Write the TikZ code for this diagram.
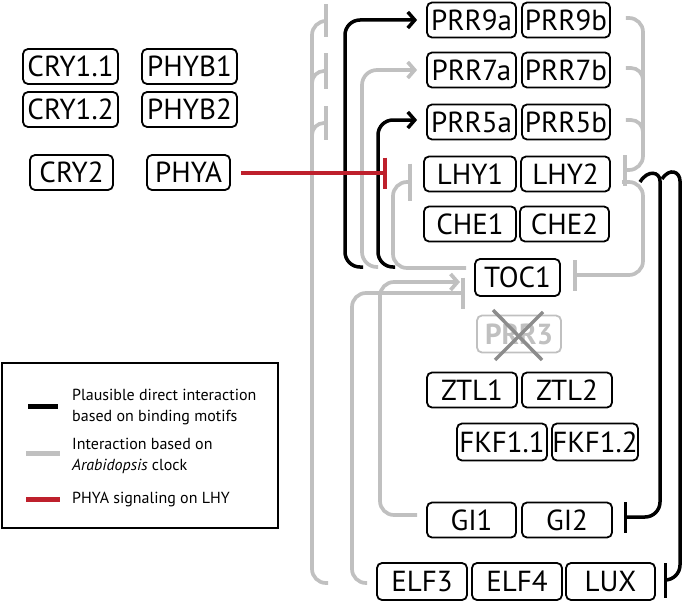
\documentclass[tikz,border=0pt]{standalone}
\usepackage{fontspec}
\setmainfont{PT Sans}
\usetikzlibrary{arrows.meta,calc}
\definecolor{lg}{RGB}{192,192,192}
\definecolor{xg}{RGB}{140,140,140}
\definecolor{rd}{RGB}{190,32,44}
\begin{document}
\begin{tikzpicture}[x=1pt,y=-1pt,
  box/.style={draw=black, line width=1.8pt, rounded corners=5pt, inner sep=0pt,
    minimum height=35pt, font=\fontsize{29}{30}\selectfont},
  gl/.style={draw=lg, line width=3.7pt},
  bl/.style={draw=black, line width=3.5pt},
  rl/.style={draw=rd, line width=4pt},
  arr/.style={-{Straight Barb[length=7pt,width=16pt]}},
  tb/.style={-{Bar[width=#1]}},
  legtxt/.style={anchor=west, align=left, inner sep=0pt, font=\fontsize{16}{20.5}\selectfont}
]
\useasboundingbox (0,0) rectangle (685,602);

% ---- photoreceptors
\node[box, minimum width=95pt] (cry11) at (70.5,66.5) {CRY1.1};
\node[box, minimum width=95pt] (phyb1) at (189.5,66.5) {PHYB1};
\node[box, minimum width=95pt] (cry12) at (70.5,109.5) {CRY1.2};
\node[box, minimum width=95pt] (phyb2) at (189.5,109.5) {PHYB2};
\node[box, minimum width=83pt] (cry2) at (71.5,172.5) {CRY2};
\node[box, minimum width=83pt] (phya) at (188.5,172.5) {PHYA};

% ---- clock genes
\node[box, minimum width=89pt] (prr9a) at (471.5,20) {PRR9a};
\node[box, minimum width=88pt] (prr9b) at (566,20) {PRR9b};
\node[box, minimum width=89pt] (prr7a) at (471.5,70) {PRR7a};
\node[box, minimum width=88pt] (prr7b) at (566,70) {PRR7b};
\node[box, minimum width=89pt] (prr5a) at (471.5,122) {PRR5a};
\node[box, minimum width=88pt] (prr5b) at (566,122) {PRR5b};
\node[box, minimum width=92pt] (lhy1) at (470,174) {LHY1};
\node[box, minimum width=89pt] (lhy2) at (565.5,174) {LHY2};
\node[box, minimum width=92pt] (che1) at (470,224) {CHE1};
\node[box, minimum width=89pt] (che2) at (564.5,224) {CHE2};
\node[box, minimum width=85pt, minimum height=37pt] (toc1) at (517.5,277.5) {TOC1};
\node[box, minimum width=84pt, minimum height=37pt, draw=lg, text=lg, font=\fontsize{29}{30}\selectfont\bfseries] (prr3) at (519,334) {PRR3};
\node[box, minimum width=90pt] (ztl1) at (472,390) {ZTL1};
\node[box, minimum width=90pt] (ztl2) at (567,390) {ZTL2};
\node[box, minimum width=90pt, minimum height=37pt] (fkf11) at (502,442) {FKF1.1};
\node[box, minimum width=86pt, minimum height=37pt] (fkf12) at (595,442) {FKF1.2};
\node[box, minimum width=89pt] (gi1) at (471.5,520) {GI1};
\node[box, minimum width=90pt] (gi2) at (567,520) {GI2};
\node[box, minimum width=90pt, minimum height=37pt] (elf3) at (422,581.5) {ELF3};
\node[box, minimum width=90pt, minimum height=37pt] (elf4) at (517,581.5) {ELF4};
\node[box, minimum width=89pt, minimum height=37pt] (lux) at (610.5,581.5) {LUX};

% cross over PRR3
\draw[xg, line width=3.5pt] ($(prr3.center)+(-26,-24)$) -- ($(prr3.center)+(23,26)$);
\draw[xg, line width=3.5pt] ($(prr3.center)+(24,-22)$) -- ($(prr3.center)+(-24,26)$);

% ---- grey connectors
\coordinate (ecA) at (328,583);
\draw[gl, rounded corners=14, tb=33pt] (ecA) -- (312,583) -- (312,21) -- (328,21);
\draw[gl, rounded corners=12, tb=35pt] (312,96) -- (312,71) -- (328,71);
\draw[gl, rounded corners=12, tb=34pt] (312,148) -- (312,123) -- (328,123);

\draw[gl, rounded corners=14, tb=31pt] ($(elf3.west)+(-9,1.5)$) -- (352,583) -- (352,293) -- (465,293);
\draw[gl, rounded corners=14, arr] ($(gi1.west)+(-9,-5)$) -- (380,515) -- (380,282) -- (460,282);

\draw[gl, rounded corners=14, tb=37pt] ($(toc1.west)+(-8,-9.5)$) -- (393,268) -- (393,182) -- (412,182);
\draw[gl, rounded corners=15, arr] (378,267) -- (362,267) -- (362,70) -- ($(prr7a.west)+(-9,0)$);

% PRRs -| LHY
\draw[gl, rounded corners=14, tb=31pt] ($(prr9b.east)+(15,-2)$) -- (643,18) -- (643,170) -- ($(lhy2.east)+(12,-4)$);
\draw[gl, rounded corners=12] ($(prr7b.east)+(15,-2)$) -- (643,68) -- (643,92);
\draw[gl, rounded corners=12] ($(prr5b.east)+(15,-2)$) -- (643,120) -- (643,144);
% LHY -| TOC1
\draw[gl, rounded corners=14, tb=31pt] (622,182) -- (643,182) -- (643,275) -- ($(toc1.east)+(12,-2.5)$);

% ---- black connectors
\draw[bl, rounded corners=15, arr] (363,267) -- (345,267) -- (345,20) -- ($(prr9a.west)+(-9,0)$);
\draw[bl, rounded corners=15, arr] (395,267) -- (378,267) -- (378,120) -- ($(prr5a.west)+(-9,-2)$);

\draw[bl, rounded corners=15, tb=31pt] (640,182) .. controls (648,169) and (660,172) .. (660,196) -- (660,517) -- ($(gi2.east)+(11,-3)$);
\draw[bl, rounded corners=15, tb=35pt] (662,179) .. controls (670,167) and (680,172) .. (680,196) -- (680,580) -- ($(lux.east)+(8,-1.5)$);

% ---- red
\draw[rl, tb=31pt] ($(phya.east)+(10,0.5)$) -- (387,173);

% ---- legend
\node[draw=black, line width=1.5pt, minimum width=276pt, minimum height=165pt, inner sep=0pt] (legend) at (140,445.5) {};
\draw[line width=5pt, black] (28,406) -- (58,406);
\node[legtxt] (l1) at (72,407) {Plausible direct interaction\\based on binding motifs};
\draw[line width=5pt, lg] (26,453) -- (60,453);
\node[legtxt] (l2) at (72,456) {Interaction based on\\\textit{Arabidopsis} clock};
\draw[line width=5pt, rd] (26,499) -- (60,499);
\node[legtxt] (l3) at (72,500) {PHYA signaling on LHY};
\end{tikzpicture}
\end{document}
